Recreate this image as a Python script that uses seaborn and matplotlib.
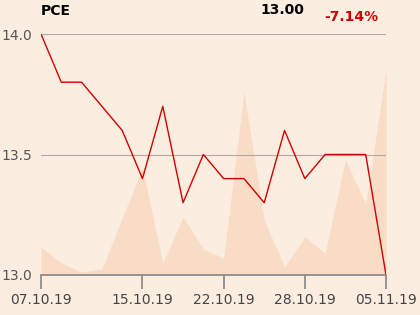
import matplotlib
matplotlib.use("Agg")
import matplotlib.pyplot as plt
import seaborn as sns
import pandas as pd

sns.set_theme(style="white")
plt.rcParams['font.family'] = ['DejaVu Sans']

# data
price = [14.0, 13.8, 13.8, 13.7, 13.6, 13.4, 13.7, 13.3, 13.5, 13.4,
         13.4, 13.3, 13.6, 13.4, 13.5, 13.5, 13.5, 13.0]
volume = [28, 12, 3, 6, 57, 107, 12, 58, 26, 17,
          183, 55, 8, 38, 22, 115, 71, 205]
tick_idx = [0, 5, 9, 13, 17]
tick_labels = ["07.10.19", "15.10.19", "22.10.19", "28.10.19", "05.11.19"]
y_ticks = [13.0, 13.5, 14.0]
title = "PCE"
last_value = "13.00"
change = "-7.14%"

df = pd.DataFrame({"i": range(len(price)), "price": price, "volume": volume})

bg = "#fcede1"
fig = plt.figure(figsize=(4.2, 3.15), dpi=100, facecolor=bg)
ax = fig.add_axes([41/420, 40/315, 345/420, 241/315])
ax.set_facecolor(bg)

ax2 = ax.twinx()
ax2.fill_between(df["i"], df["volume"], 0, color="#f8dcc6", lw=0)
ax2.set_ylim(0, 241)
ax2.axis("off")
ax.set_zorder(ax2.get_zorder() + 1)
ax.patch.set_visible(False)
fig.patches.append(plt.Rectangle((41/420, 40/315), 345/420, 241/315,
                                 transform=fig.transFigure, color=bg, zorder=-10))

sns.lineplot(data=df, x="i", y="price", ax=ax, color="#d10000", lw=1.0)
ax.set_xlim(0, len(price) - 1)
ax.set_ylim(13.0, 14.0)
ax.set_yticks(y_ticks)
ax.set_yticklabels([f"{v:.1f}" for v in y_ticks])
ax.set_xticks(tick_idx)
ax.set_xticklabels(tick_labels)
ax.set_xlabel("")
ax.set_ylabel("")
ax.grid(axis="y", color="#b0aaa6", lw=0.8)
for s in ["top", "right", "left"]:
    ax.spines[s].set_visible(False)
ax.spines["bottom"].set_color("#8a8a8a")
ax.tick_params(axis="x", length=10, color="#8a8a8a", labelsize=10, labelcolor="#444444", pad=3, bottom=True)
ax.tick_params(axis="y", length=0, labelsize=10, labelcolor="#555555", pad=6)

fig.text(41/420, 1 - 11/315, title, fontsize=10, fontweight="bold", color="#000000", va="center", ha="left")
fig.text(282/420, 1 - 10/315, last_value, fontsize=10, fontweight="bold", color="#000000", va="center", ha="center")
fig.text(378/420, 1 - 17/315, change, fontsize=10, fontweight="bold", color="#cc0000", va="center", ha="right")

fig.savefig("out.png", dpi=100, facecolor=bg)
